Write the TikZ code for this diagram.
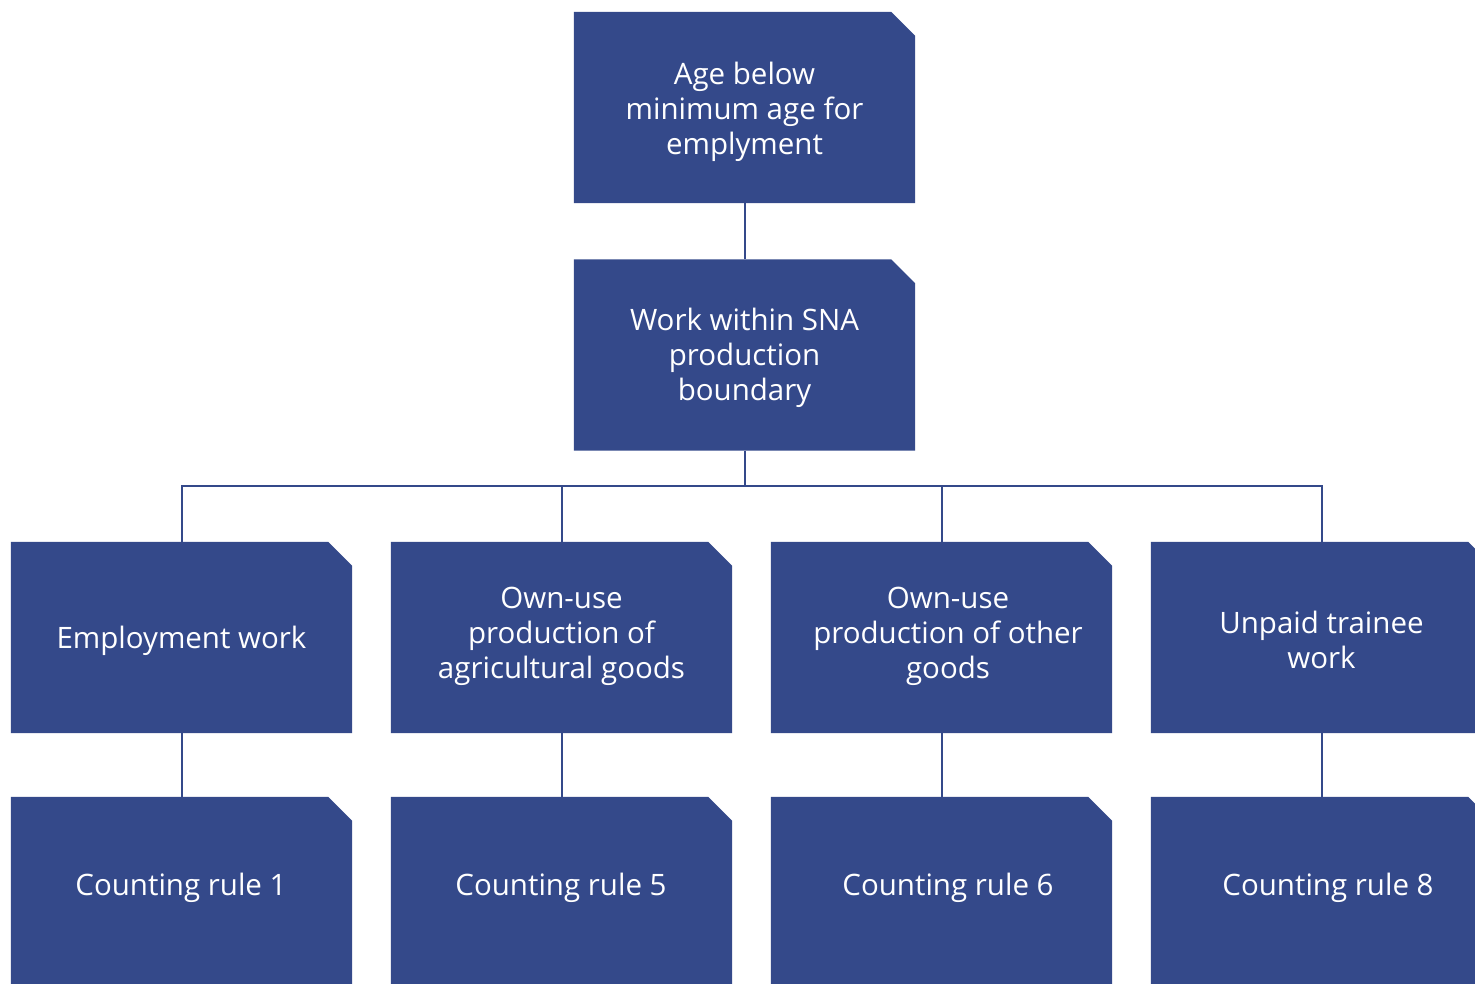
\documentclass[tikz,border=0pt]{standalone}
\usepackage{fontspec}
\setmainfont{Open Sans}
\usetikzlibrary{backgrounds}
\definecolor{boxblue}{HTML}{34498A}
\tikzset{
  cbox/.style={rectangle, draw=none, minimum width=341pt, minimum height=191pt,
    inner sep=0pt, text=white, align=center, font=\fontsize{29.5}{35}\selectfont},
  btext/.style={text=white, align=center, font=\fontsize{29.5}{35}\selectfont, inner sep=0pt},
  conn/.style={draw=boxblue, line width=2pt}
}
\begin{document}
\begin{tikzpicture}[x=1pt,y=-1pt]
\useasboundingbox (0,0) rectangle (1475,983);
\clip (0,0) rectangle (1475,983);
% top
\node[cbox] (top) at (744.5,107.5) {};
\node[btext] at (744.5,111.5) {Age below\\minimum age for\\emplyment};
\node[cbox] (sna) at (744.5,355) {};
\node[btext] at (744.5,358) {Work within SNA\\production\\boundary};
% row 3
\node[cbox] (emp) at (181.5,637.5) {};
\node[btext] at (181.5,641) {Employment work};
\node[cbox] (agr) at (561.5,637.5) {};
\node[btext] at (561.5,636.5) {Own-use\\production of\\agricultural goods};
\node[cbox] (oth) at (941.5,637.5) {};
\node[btext] at (948,636.5) {Own-use\\production of other\\goods};
\node[cbox] (trn) at (1321.5,637.5) {};
\node[btext] at (1321.5,640) {Unpaid trainee\\work};
% row 4
\node[cbox] (c1) at (181.5,892.5) {};
\node[cbox] (c5) at (561.5,892.5) {};
\node[cbox] (c6) at (941.5,892.5) {};
\node[cbox] (c8) at (1321.5,892.5) {};
\node[btext] at (181,888) {Counting rule 1};
\node[btext] at (561,888) {Counting rule 5};
\node[btext] at (948,888) {Counting rule 6};
\node[btext] at (1328,888) {Counting rule 8};
\begin{pgfonlayer}{background}
\foreach \n in {top,sna,emp,agr,oth,trn,c1,c5,c6,c8}{
  \fill[boxblue] (\n.south west) -- (\n.north west) -- ([xshift=-24pt]\n.north east)
    -- ([yshift=-24pt]\n.north east) -- (\n.south east) -- cycle;
}
% connectors
\coordinate (bus) at (744.5,486);
\draw[conn] (top.south) -- (sna.north);
\draw[conn] (sna.south) -- (bus);
\draw[conn] (emp.north) |- (bus) -| (trn.north);
\draw[conn] (agr.north) -- (agr.north |- bus);
\draw[conn] (oth.north) -- (oth.north |- bus);
\draw[conn] (emp.south) -- (c1.north);
\draw[conn] (agr.south) -- (c5.north);
\draw[conn] (oth.south) -- (c6.north);
\draw[conn] (trn.south) -- (c8.north);
\end{pgfonlayer}
\end{tikzpicture}
\end{document}
